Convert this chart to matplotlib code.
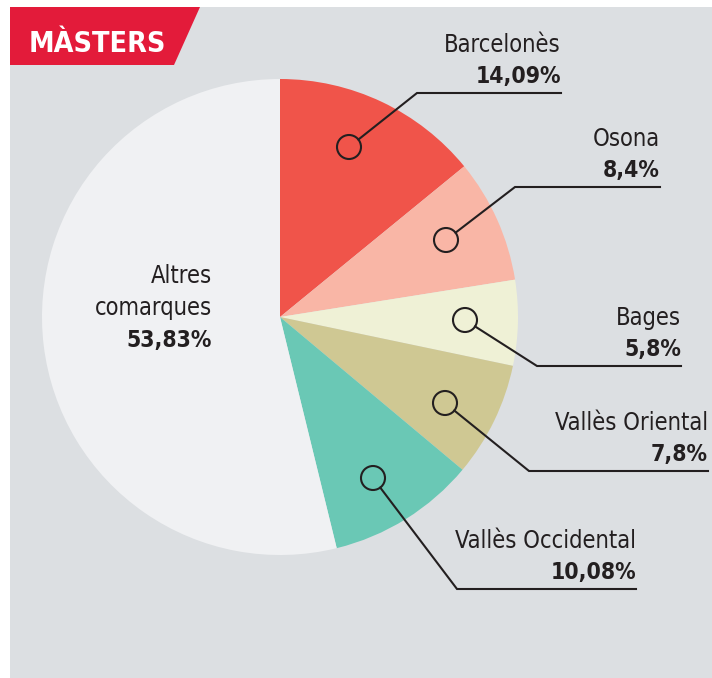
import matplotlib
matplotlib.use("Agg")
import matplotlib.pyplot as plt
from matplotlib import font_manager
from matplotlib.patches import Polygon, Rectangle, Circle
import numpy as np

# ---- data ----
categories = ["Barcelonès", "Osona", "Bages", "Vallès Oriental", "Vallès Occidental", "Altres\ncomarques"]
values = [14.09, 8.4, 5.8, 7.8, 10.08, 53.83]
pct_labels = ["14,09%", "8,4%", "5,8%", "7,8%", "10,08%", "53,83%"]
colors = ["#f0544a", "#f9b6a6", "#eff1d6", "#cfc893", "#6ac8b5", "#f0f1f3"]
title = "MÀSTERS"

# ---- fonts ----
names = {f.name for f in font_manager.fontManager.ttflist}
if "Liberation Sans Narrow" in names:
    FAM = "Liberation Sans Narrow"
    STR = "normal"
else:
    FAM = "DejaVu Sans"
    STR = "condensed"

W, H = 712, 678
fig = plt.figure(figsize=(W / 100, H / 100), dpi=100)
fig.patch.set_facecolor("white")
ax = fig.add_axes([0, 0, 1, 1])

def Y(y):
    return H - y

# pie
cx, cy, R = 280, Y(317), 238
wedges, _ = ax.pie(values, colors=colors, startangle=90, counterclock=False, radius=R,
                   center=(cx, cy), frame=True, wedgeprops=dict(edgecolor="none", linewidth=0))
ax.set_xlim(0, W)
ax.set_ylim(0, H)
ax.set_aspect("equal")
ax.axis("off")

# panel
ax.add_patch(Rectangle((10, Y(678)), W - 10, 678 - 7, facecolor="#dcdfe2", edgecolor="none", zorder=0))
for w in wedges:
    w.set_zorder(2)

# header
ax.add_patch(Polygon([(10, Y(7)), (200, Y(7)), (174, Y(65)), (10, Y(65))], closed=True,
                     facecolor="#e31b3a", edgecolor="none", zorder=3))
ax.text(29, Y(52), title, color="white", fontsize=20.5, fontweight="bold", family=FAM,
        fontstretch=STR, ha="left", va="baseline", zorder=4)

# label layout in image coords: circle centre, elbow x, line y, right end x
layout = [
    ((349, 147), 417, 93, 561),
    ((446, 240), 515, 187, 660),
    ((465, 320), 537, 366, 681),
    ((445, 403), 529, 471, 708),
    ((373, 478), 457, 589, 636),
]

txtcol = "#231f20"
cr = 12
for i, w in enumerate(wedges[:5]):
    (pxi, pyi), ex, ly, rx = layout[i]
    px, py = pxi, Y(pyi)
    ax.add_patch(Circle((px, py), cr, facecolor="none", edgecolor=txtcol, linewidth=1.5, zorder=5))
    ey = Y(ly)
    d = np.hypot(ex - px, ey - py)
    sx = px + (ex - px) / d * cr
    sy = py + (ey - py) / d * cr
    ax.plot([sx, ex, rx], [sy, ey, ey], color=txtcol, linewidth=1.5, solid_joinstyle="miter", zorder=5)
    ax.text(rx, ey + 41, categories[i], fontsize=17, family=FAM, fontstretch=STR,
            color=txtcol, ha="right", va="baseline", zorder=6)
    ax.text(rx, ey + 10, pct_labels[i], fontsize=16.5, fontweight="bold", family=FAM,
            fontstretch=STR, color=txtcol, ha="right", va="baseline", zorder=6)

# Altres label
ax.text(212, Y(283), "Altres", fontsize=17, family=FAM, fontstretch=STR, color=txtcol,
        ha="right", va="baseline", zorder=6)
ax.text(212, Y(315), "comarques", fontsize=17, family=FAM, fontstretch=STR, color=txtcol,
        ha="right", va="baseline", zorder=6)
ax.text(212, Y(347), pct_labels[5], fontsize=16.5, fontweight="bold", family=FAM, fontstretch=STR,
        color=txtcol, ha="right", va="baseline", zorder=6)

fig.savefig("out.png", dpi=100, facecolor=fig.get_facecolor())
